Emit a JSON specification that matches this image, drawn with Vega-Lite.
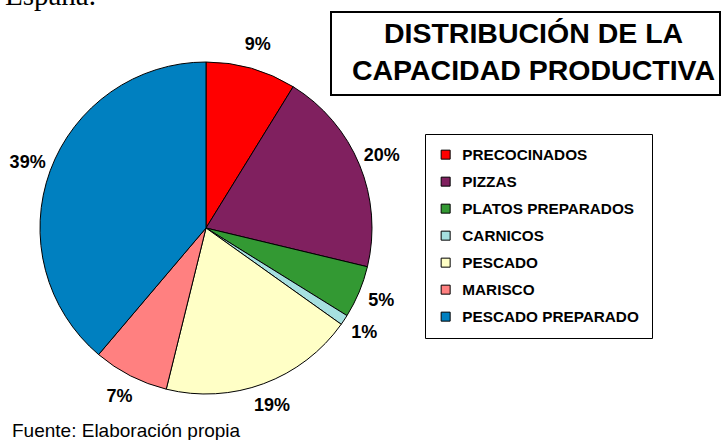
{
  "$schema": "https://vega.github.io/schema/vega-lite/v6.json",
  "autosize": {"type": "none"},
  "padding": {"left": 81, "top": 12, "right": 644, "bottom": 428},
  "bounds": "flush",
  "spacing": 0,
  "background": "white",
  "config": {"view": {"stroke": null}, "font": "Liberation Sans"},
  "title": {
    "text": "Fuente: Elaboración propia",
    "orient": "bottom",
    "anchor": "start",
    "frame": "group",
    "baseline": "alphabetic",
    "offset": -7,
    "dx": -69,
    "font": "Liberation Sans",
    "fontSize": 19,
    "fontWeight": "normal",
    "color": "black"
  },
  "datasets": {
    "slices": [
      {"idx": 1, "name": "PRECOCINADOS", "value": 8.8, "label": "9%"},
      {"idx": 2, "name": "PIZZAS", "value": 19.95, "label": "20%"},
      {"idx": 3, "name": "PLATOS PREPARADOS", "value": 5.1, "label": "5%"},
      {"idx": 4, "name": "CARNICOS", "value": 1.0, "label": "1%"},
      {"idx": 5, "name": "PESCADO", "value": 19.0, "label": "19%"},
      {"idx": 6, "name": "MARISCO", "value": 7.35, "label": "7%"},
      {"idx": 7, "name": "PESCADO PREPARADO", "value": 38.8, "label": "39%"}
    ],
    "heading": [{"t": ["DISTRIBUCIÓN DE LA", "CAPACIDAD PRODUCTIVA"]}]
  },
  "hconcat": [
    {
      "width": 250,
      "height": 432,
      "title": {
        "text": "España.",
        "orient": "top",
        "anchor": "start",
        "frame": "group",
        "baseline": "bottom",
        "offset": -28,
        "dx": -76,
        "font": "Liberation Serif",
        "fontSize": 29,
        "fontWeight": "normal",
        "color": "black"
      },
      "data": {"name": "slices"},
      "encoding": {
        "theta": {"field": "value", "type": "quantitative", "stack": true},
        "order": {"field": "idx", "type": "quantitative"}
      },
      "layer": [
        {
          "mark": {"type": "arc", "outerRadius": 166, "stroke": "black", "strokeWidth": 1},
          "encoding": {
            "color": {
              "field": "name",
              "type": "nominal",
              "sort": null,
              "scale": {
                "domain": ["PRECOCINADOS", "PIZZAS", "PLATOS PREPARADOS", "CARNICOS", "PESCADO", "MARISCO", "PESCADO PREPARADO"],
                "range": ["#ff0000", "#80205f", "#339933", "#a6e0e0", "#ffffc6", "#ff8080", "#0080c0"]
              },
              "legend": {
                "orient": "none",
                "legendX": 344,
                "legendY": 122,
                "direction": "vertical",
                "title": null,
                "strokeColor": "black",
                "fillColor": "white",
                "padding": 13,
                "labelFont": "Liberation Sans",
                "labelFontSize": 15.3,
                "labelFontWeight": "bold",
                "labelColor": "black",
                "labelOffset": 9,
                "labelLimit": 400,
                "symbolType": "square",
                "symbolSize": 81,
                "symbolStrokeColor": "black",
                "symbolStrokeWidth": 1,
                "symbolOpacity": 1,
                "rowPadding": 11
              }
            }
          }
        },
        {
          "mark": {"type": "text", "radius": 190, "font": "Liberation Sans", "fontWeight": "bold", "fontSize": 18, "color": "black"},
          "encoding": {"text": {"field": "label", "type": "nominal"}}
        }
      ]
    },
    {
      "width": 389,
      "height": 83,
      "view": {"stroke": "black", "strokeWidth": 2},
      "data": {"name": "heading"},
      "mark": {"type": "text", "font": "Liberation Sans", "fontSize": 28.5, "fontWeight": "bold", "lineHeight": 37, "baseline": "middle", "align": "center", "dx": 8, "dy": -20, "color": "black"},
      "encoding": {"text": {"field": "t"}}
    }
  ]
}
